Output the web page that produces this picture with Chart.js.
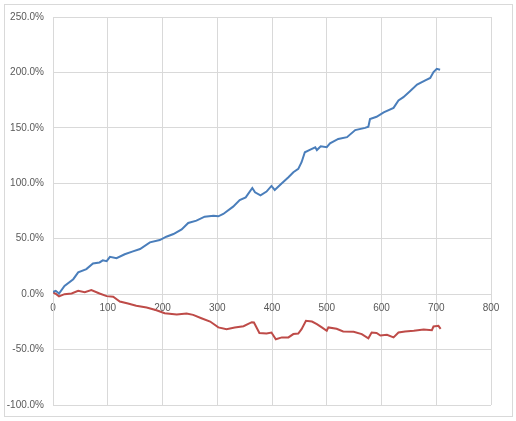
<!DOCTYPE html>
<html>
<head>
<meta charset="utf-8">
<script src="https://cdn.jsdelivr.net/npm/chart.js@4"></script>
<style>
    body { margin: 0; background: #fff; }
    #box {
        position: absolute; left: 4px; top: 4px;
        width: 509px; height: 413px;
        box-sizing: border-box;
        border: 1px solid #d9d9d9;
    }
    #chart { display: block; }
</style>
</head>
<body>
<div id="box"><canvas id="chart" width="507" height="411"></canvas></div>
<script>
// blue series (x, percent)
const blueX = [0, 5, 11, 21, 37, 46, 61, 73, 85, 91, 98, 104, 116, 131, 146, 159, 177, 195, 207, 220,
    235, 247, 262, 277, 293, 302, 311, 329, 341, 352, 364, 369, 379, 390, 399, 405, 418, 430, 439, 448,
    454, 460, 470, 479, 482, 489, 500, 506, 521, 537, 552, 570, 576, 579, 591, 604, 622, 631, 640, 652,
    665, 680, 689, 695, 701, 707];
const blueY = [2, 3, 0.5, 7.5, 13.5, 19.6, 22.6, 27.7, 28.6, 30.5, 29.8, 33.7, 32.5, 36, 38.6, 40.7, 46.7, 48.8, 51.8, 54.2,
    58.4, 64.2, 66.3, 69.9, 70.8, 70.2, 72.3, 78.9, 84.9, 87.3, 95.8, 91.9, 89.2, 92.5, 97.6, 94, 100, 105.4, 110, 113,
    119, 128, 130.4, 132.5, 130, 133.4, 132.5, 136, 140, 141.6, 148, 150, 151, 158, 160, 164, 168, 174.7, 177.7, 183,
    189, 192.8, 195, 200.3, 203.3, 202.4];

// red series (x, percent)
const redX = [0, 6, 11, 21, 34, 46, 58, 70, 85, 98, 110, 122, 137, 152, 171, 189, 204, 226, 244, 256,
    271, 287, 302, 317, 332, 348, 363, 367, 377, 390, 399, 407, 418, 430, 439, 448, 454, 462, 473, 482,
    491, 500, 503, 518, 530, 549, 564, 576, 582, 591, 598, 610, 622, 631, 643, 659, 677, 692, 695, 704, 708];
const redY = [1.5, 0, -2, 0, 0.6, 3, 1.8, 3.6, 0.6, -1.8, -2.4, -6.6, -8.4, -10.5, -12, -14.5, -17.2, -18.4, -17.5, -18.7,
    -21.7, -24.7, -30, -31.6, -30, -28.9, -25.3, -25.6, -35, -35.5, -34.6, -40.7, -39, -39, -36, -35.5, -31.6, -24, -24.7, -27,
    -30, -33, -30, -31.3, -33.7, -34, -36, -39.8, -34.6, -35, -37.3, -36.7, -39, -34.6, -33.7, -33, -32, -32.5, -29.2, -28.6, -31.3];

const toPoints = (xs, ys) => xs.map((x, i) => ({ x: x, y: ys[i] }));

const gridColor = '#d9d9d9';
const textColor = '#595959';

// let the layout padding alone decide where the plot area sits
const noPad = scale => {
    scale.paddingTop = 0;
    scale.paddingBottom = 0;
    scale.paddingLeft = 0;
    scale.paddingRight = 0;
};

new Chart(document.getElementById('chart'), {
    type: 'line',
    data: {
        datasets: [
            {
                data: toPoints(blueX, blueY),
                borderColor: '#4a7ebb',
                borderWidth: 2,
                pointRadius: 0,
                tension: 0
            },
            {
                data: toPoints(redX, redY),
                borderColor: '#be4b48',
                borderWidth: 2,
                pointRadius: 0,
                tension: 0
            }
        ]
    },
    options: {
        responsive: false,
        animation: false,
        layout: { padding: { top: 12, right: 21, bottom: 11, left: 0 } },
        plugins: { legend: { display: false }, tooltip: { enabled: false } },
        scales: {
            x: {
                type: 'linear',
                position: { y: 0 },
                min: 0,
                max: 800,
                afterFit: noPad,
                ticks: { stepSize: 100, color: textColor, font: { family: 'Liberation Sans', size: 10 }, padding: 4, maxRotation: 0 },
                grid: { color: gridColor, tickLength: 4, tickColor: gridColor },
                border: { color: gridColor }
            },
            y: {
                min: -100,
                max: 250,
                afterFit: scale => { noPad(scale); scale.width = 48; },
                ticks: {
                    stepSize: 50,
                    color: textColor,
                    font: { family: 'Liberation Sans', size: 10 },
                    padding: 9,
                    callback: v => v.toFixed(1) + '%'
                },
                grid: { color: gridColor, drawTicks: false },
                border: { color: gridColor }
            }
        }
    }
});
</script>
</body>
</html>
